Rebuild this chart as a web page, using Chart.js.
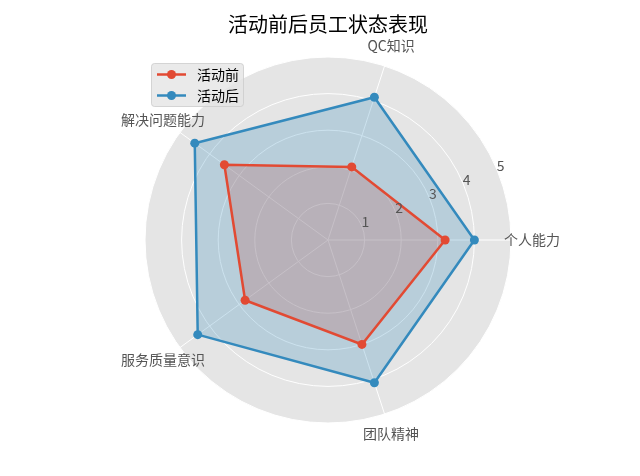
<!DOCTYPE html>
<html>
<head>
<meta charset="utf-8">
<script src="https://cdn.jsdelivr.net/npm/chart.js@4.4.1/dist/chart.umd.min.js"></script>
<style>
  html, body { margin: 0; padding: 0; background: #ffffff; }
  #wrap { position: relative; width: 640px; height: 476px; }
</style>
</head>
<body>
<div id="wrap"><canvas id="c" width="640" height="476"></canvas></div>
<script>
// ---- data (category order as in the source, counter-clockwise from the right) ----
const categories = ['个人能力', 'QC知识', '解决问题能力', '服务质量意识', '团队精神'];
const beforeValues = [3.2, 2.1, 3.5, 2.8, 3.0];
const afterValues = [4.0, 4.1, 4.5, 4.4, 4.1];
const seriesNames = ['活动前', '活动后'];
const tickValues = [1, 2, 3, 4, 5];
const chartTitle = '活动前后员工状态表现';

// Chart.js goes clockwise; reorder so the polygon runs the same way as the source
const order = [0, 4, 3, 2, 1];
const labels = order.map(i => categories[i]);
const reorder = arr => order.map(i => arr[i]);

const RED = '#E24A33';
const BLUE = '#348ABD';
const FONT = '"Noto Sans CJK SC", "Noto Sans", sans-serif';

const overlay = {
  id: 'overlay',
  afterDraw(chart) {
    const ctx = chart.ctx;
    const s = chart.scales.r;
    ctx.save();
    // point labels (centred, matplotlib-like)
    ctx.font = '14px ' + FONT;
    ctx.fillStyle = '#555555';
    ctx.textAlign = 'center';
    ctx.textBaseline = 'middle';
    labels.forEach((lab, i) => {
      const p = s.getPointPosition(i, s.drawingArea + 21);
      ctx.fillText(lab, p.x, p.y);
    });
    // radial tick labels at 22.5 degrees
    const a = 22.5 * Math.PI / 180;
    tickValues.forEach(v => {
      const d = s.getDistanceFromCenterForValue(v);
      ctx.fillText(String(v), s.xCenter + d * Math.cos(a) + 3.5, s.yCenter - d * Math.sin(a) - 4.5);
    });
    // legend
    const bx = 151.5, by = 63.5, bw = 92, bh = 43, r = 3;
    ctx.beginPath();
    ctx.moveTo(bx + r, by);
    ctx.arcTo(bx + bw, by, bx + bw, by + bh, r);
    ctx.arcTo(bx + bw, by + bh, bx, by + bh, r);
    ctx.arcTo(bx, by + bh, bx, by, r);
    ctx.arcTo(bx, by, bx + bw, by, r);
    ctx.closePath();
    ctx.fillStyle = 'rgba(229,229,229,0.8)';
    ctx.fill();
    ctx.strokeStyle = 'rgba(204,204,204,0.8)';
    ctx.lineWidth = 1;
    ctx.stroke();
    chart.data.datasets.forEach((ds, k) => {
      const y = 74.5 + k * 21;
      ctx.strokeStyle = ds.borderColor;
      ctx.lineWidth = 2.5;
      ctx.beginPath();
      ctx.moveTo(157, y);
      ctx.lineTo(186, y);
      ctx.stroke();
      ctx.fillStyle = ds.borderColor;
      ctx.beginPath();
      ctx.arc(171.5, y, 4.5, 0, Math.PI * 2);
      ctx.fill();
      ctx.fillStyle = '#000000';
      ctx.textAlign = 'left';
      ctx.font = '14px ' + FONT;
      ctx.fillText(ds.label, 197, y);
    });
    ctx.restore();
  }
};

new Chart(document.getElementById('c'), {
  type: 'radar',
  data: {
    labels: labels,
    datasets: [
      {
        label: seriesNames[0],
        data: reorder(beforeValues),
        borderColor: RED,
        backgroundColor: 'rgba(226,74,51,0.25)',
        pointBackgroundColor: RED,
        pointBorderColor: RED,
        borderWidth: 2.5,
        pointRadius: 4.5,
        pointBorderWidth: 0,
        fill: true,
        order: 1
      },
      {
        label: seriesNames[1],
        data: reorder(afterValues),
        borderColor: BLUE,
        backgroundColor: 'rgba(52,138,189,0.25)',
        pointBackgroundColor: BLUE,
        pointBorderColor: BLUE,
        borderWidth: 2.5,
        pointRadius: 4.5,
        pointBorderWidth: 0,
        fill: true,
        order: 0
      }
    ]
  },
  options: {
    responsive: false,
    animation: false,
    devicePixelRatio: 1,
    layout: { padding: { left: 145, right: 129, top: 0, bottom: 53 } },
    elements: { line: { tension: 0 } },
    plugins: {
      legend: { display: false },
      tooltip: { enabled: false },
      filler: { drawTime: 'beforeDatasetsDraw' },
      title: {
        display: true,
        text: chartTitle,
        fullSize: false,
        color: '#000000',
        font: { family: FONT, size: 20, weight: 'normal' },
        padding: { top: 12, bottom: 21 }
      }
    },
    scales: {
      r: {
        min: 0,
        max: 5,
        startAngle: 90,
        backgroundColor: '#E5E5E5',
        ticks: { display: false, stepSize: 1 },
        pointLabels: { display: false },
        grid: { circular: true, color: '#FFFFFF', lineWidth: 1 },
        angleLines: { display: true, color: '#FFFFFF', lineWidth: 1 }
      }
    }
  },
  plugins: [overlay]
});
</script>
</body>
</html>
